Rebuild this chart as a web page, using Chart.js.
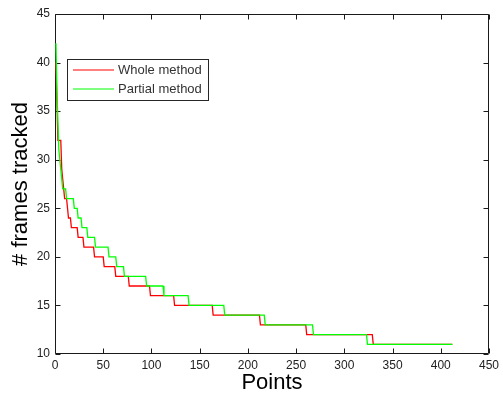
<!DOCTYPE html>
<html>
<head>
<meta charset="utf-8">
<script src="https://cdn.jsdelivr.net/npm/chart.js@4/dist/chart.umd.min.js"></script>
<style>
  html, body { margin: 0; padding: 0; background: #fff; }
  #wrap { width: 503px; height: 403px; }
</style>
</head>
<body>
<div id="wrap"><canvas id="c" width="503" height="403"></canvas></div>
<script>
// Series names (legend order)
const seriesNames = ['Whole method', 'Partial method'];

// Whole method: corner points of the descending step curve (point index, frames tracked)
const wholeX = [1, 2, 3, 6, 7, 8, 9, 10, 12, 13, 14, 16, 17, 23, 24, 29, 30, 40, 41, 50,
                51, 62, 63, 76, 77, 98, 99, 123, 124, 163, 164, 212, 213, 260, 261, 329, 330, 412];
const wholeY = [40, 36, 32, 32, 29, 28, 27, 26, 26, 25, 24, 24, 23, 23, 22, 22, 21, 21, 20, 20,
                19, 19, 18, 18, 17, 17, 16, 16, 15, 15, 14, 14, 13, 13, 12, 12, 11, 11];

// Partial method
const partialX = [1, 2, 3, 4, 6, 7, 8, 11, 12, 19, 20, 23, 24, 27, 28, 33, 34, 41, 42, 55,
                  56, 63, 64, 71, 72, 94, 95, 112, 113, 138, 139, 175, 176, 217, 218, 267, 268, 323, 324, 412];
const partialY = [42, 37, 34, 31, 29, 28, 27, 27, 26, 26, 25, 25, 24, 24, 23, 23, 22, 22, 21, 21,
                  20, 20, 19, 19, 18, 18, 17, 17, 16, 16, 15, 15, 14, 14, 13, 13, 12, 12, 11, 11];

// Axis ticks and titles
const xTicks = [0, 50, 100, 150, 200, 250, 300, 350, 400, 450];
const yTicks = [10, 15, 20, 25, 30, 35, 40, 45];
const xTitle = 'Points';
const yTitle = '# frames tracked';

const toPoints = (xs, ys) => xs.map((x, i) => ({ x: x, y: ys[i] }));

const FONT = '"Liberation Sans", Arial, Helvetica, sans-serif';

// Box around the plot area with inward tick marks on all four sides
const frame = {
  id: 'frame',
  beforeDatasetsDraw(chart) {
    const { ctx, chartArea: a, scales: { x, y } } = chart;
    const L = Math.round(a.left) + 0.5, R = Math.round(a.right) - 0.5;
    const T = Math.round(a.top) + 0.5, B = Math.round(a.bottom) - 0.5;
    const len = 5;
    ctx.save();
    ctx.strokeStyle = '#1a1a1a';
    ctx.lineWidth = 1;
    ctx.beginPath();
    ctx.rect(L, T, R - L, B - T);
    x.ticks.forEach(t => {
      const px = Math.round(x.getPixelForValue(t.value)) + 0.5;
      ctx.moveTo(px, B); ctx.lineTo(px, B - len);
      ctx.moveTo(px, T); ctx.lineTo(px, T + len);
    });
    y.ticks.forEach(t => {
      const py = Math.round(y.getPixelForValue(t.value)) + 0.5;
      ctx.moveTo(L, py); ctx.lineTo(L + len, py);
      ctx.moveTo(R, py); ctx.lineTo(R - len, py);
    });
    ctx.stroke();
    ctx.restore();
  }
};

// Boxed legend in the upper-left of the plot
const boxLegend = {
  id: 'boxLegend',
  afterDraw(chart) {
    const { ctx } = chart;
    const bx = 67, by = 59, bw = 141, bh = 41;
    ctx.save();
    ctx.fillStyle = '#fff';
    ctx.fillRect(bx, by, bw, bh);
    ctx.strokeStyle = '#262626';
    ctx.lineWidth = 1;
    ctx.strokeRect(bx + 0.5, by + 0.5, bw, bh);
    ctx.font = '13px ' + FONT;
    ctx.textBaseline = 'middle';
    ctx.textAlign = 'left';
    chart.data.datasets.forEach((ds, i) => {
      const ly = by + 11 + i * 19;
      ctx.strokeStyle = ds.borderColor;
      ctx.lineWidth = 1.2;
      ctx.beginPath();
      ctx.moveTo(73, ly);
      ctx.lineTo(114, ly);
      ctx.stroke();
      ctx.fillStyle = '#333';
      ctx.fillText(ds.label, 118, ly + 0.5);
    });
    ctx.restore();
  }
};

new Chart(document.getElementById('c'), {
  type: 'line',
  data: {
    datasets: [
      {
        label: seriesNames[0],
        data: toPoints(wholeX, wholeY),
        borderColor: 'rgb(255,0,0)',
        borderWidth: 1.3,
        pointRadius: 0,
        tension: 0,
        fill: false,
        order: 1
      },
      {
        label: seriesNames[1],
        data: toPoints(partialX, partialY),
        borderColor: 'rgb(0,255,0)',
        borderWidth: 1.3,
        pointRadius: 0,
        tension: 0,
        fill: false,
        order: 0
      }
    ]
  },
  options: {
    responsive: false,
    animation: false,
    devicePixelRatio: 1,
    layout: { padding: { top: 14, right: 14, left: 0, bottom: 0 } },
    plugins: {
      legend: { display: false },
      tooltip: { enabled: false }
    },
    scales: {
      x: {
        type: 'linear',
        min: 0,
        max: 450,
        afterBuildTicks: s => { s.ticks = xTicks.map(v => ({ value: v })); },
        afterFit: s => { s.height = 49; },
        grid: { display: false, drawTicks: false },
        border: { display: false },
        ticks: {
          padding: 4,
          maxRotation: 0,
          autoSkip: false,
          color: '#222',
          font: { family: FONT, size: 12 }
        },
        title: {
          display: true,
          text: xTitle,
          color: '#000',
          font: { family: FONT, size: 22 },
          padding: { top: 0, bottom: 7 }
        }
      },
      y: {
        type: 'linear',
        min: 10,
        max: 45,
        afterBuildTicks: s => { s.ticks = yTicks.map(v => ({ value: v })); },
        afterFit: s => { s.width = 55; },
        grid: { display: false, drawTicks: false },
        border: { display: false },
        ticks: {
          padding: 5,
          autoSkip: false,
          color: '#222',
          font: { family: FONT, size: 12 }
        },
        title: {
          display: true,
          text: yTitle,
          color: '#000',
          font: { family: FONT, size: 22 },
          padding: { top: 8, bottom: 0 }
        }
      }
    }
  },
  plugins: [frame, boxLegend]
});
</script>
</body>
</html>
